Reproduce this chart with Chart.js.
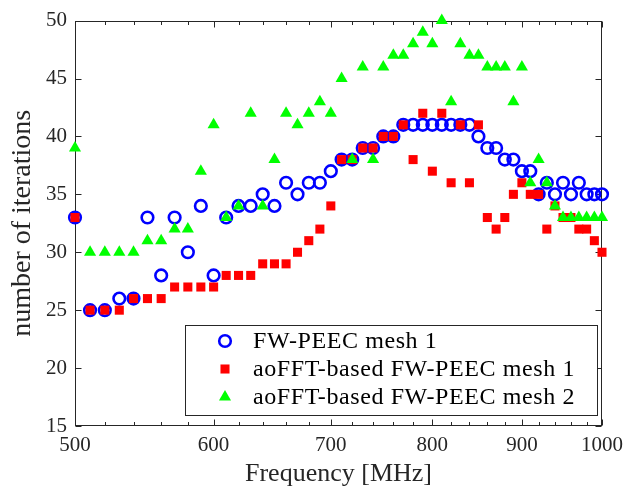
<!DOCTYPE html>
<html>
<head>
<meta charset="utf-8">
<script src="https://cdn.jsdelivr.net/npm/chart.js@4/dist/chart.umd.min.js"></script>
<style>
  html, body { margin: 0; padding: 0; background: #ffffff; }
  #wrap { width: 631px; height: 488px; }
</style>
</head>
<body>
<div id="wrap"><canvas id="chart" width="631" height="488"></canvas></div>
<script>
// Frequency sweep (MHz)
const frequencies = [
  500, 510, 520, 530, 540, 550, 560, 570, 580, 590,
  600, 610, 620, 630, 640, 650, 660, 670, 680, 690,
  700, 710, 720, 730, 740, 750, 760, 770, 780, 790,
  800, 810, 820, 830, 840, 850, 860, 870, 880, 890,
  900, 910, 920, 930, 940, 950, 960, 970, 980, 990,
  1000
];

// Iteration counts per solver
const fwPeecMesh1 = [
  33, 25, 25, 26, 26, 33, 28, 33, 30, 34,
  28, 33, 34, 34, 35, 34, 36, 35, 36, 36,
  37, 38, 38, 39, 39, 40, 40, 41, 41, 41,
  41, 41, 41, 41, 41, 40, 39, 39, 38, 38,
  37, 37, 35, 36, 35, 36, 35, 36, 35, 35,
  35
];
const aoFftMesh1 = [
  33, 25, 25, 25, 26, 26, 26, 27, 27, 27,
  27, 28, 28, 28, 29, 29, 29, 30, 31, 32,
  34, 38, 38, 39, 39, 40, 40, 41, 38, 42,
  37, 42, 36, 41, 36, 41, 33, 32, 33, 35,
  36, 35, 35, 32, 34, 33, 33, 32, 32, 31,
  30
];
const aoFftMesh2 = [
  39, 30, 30, 30, 30, 31, 31, 32, 32, 37,
  41, 33, 34, 42, 34, 38, 42, 41, 42, 43,
  42, 45, 38, 46, 38, 46, 47, 47, 48, 49,
  48, 50, 43, 48, 47, 47, 46, 46, 46, 43,
  46, 36, 38, 36, 34, 33, 33, 33, 33, 33,
  33
];

// Axis ticks
const xMajorTicks = [500, 600, 700, 800, 900, 1000];
const xMinorTicks = [520, 540, 560, 580, 620, 640, 660, 680, 720, 740, 760, 780,
                     820, 840, 860, 880, 920, 940, 960, 980];
const yTicks = [15, 20, 25, 30, 35, 40, 45, 50];

const SERIF = '"Liberation Serif", "Times New Roman", serif';
const AXIS_COLOR = '#262626';

const toPoints = values => frequencies.map((f, i) => ({ x: f, y: values[i] }));

// Box around the axes with inward tick marks on all four sides
const axesFrame = {
  id: 'axesFrame',
  beforeDatasetsDraw(chart) {
    const { ctx, chartArea: a, scales: { x, y } } = chart;
    const L = Math.round(a.left) + 0.5, R = Math.round(a.right) - 0.5;
    const T = Math.round(a.top) + 0.5, B = Math.round(a.bottom) - 0.5;
    ctx.save();
    ctx.strokeStyle = AXIS_COLOR;
    ctx.lineWidth = 1;
    ctx.strokeRect(L, T, R - L, B - T);
    ctx.beginPath();
    const xTick = (v, len) => {
      const px = Math.round(x.getPixelForValue(v)) + 0.5;
      ctx.moveTo(px, B); ctx.lineTo(px, B - len);
      ctx.moveTo(px, T); ctx.lineTo(px, T + len);
    };
    xMajorTicks.forEach(v => xTick(v, 6));
    xMinorTicks.forEach(v => xTick(v, 3.5));
    yTicks.forEach(v => {
      const py = Math.round(y.getPixelForValue(v)) + 0.5;
      ctx.moveTo(L, py); ctx.lineTo(L + 6, py);
      ctx.moveTo(R, py); ctx.lineTo(R - 6, py);
    });
    ctx.stroke();
    ctx.restore();
  }
};

// Framed legend in the lower right of the plot
const boxedLegend = {
  id: 'boxedLegend',
  afterDatasetsDraw(chart) {
    const { ctx } = chart;
    const box = { x: 185.5, y: 325.5, w: 412, h: 90 };
    const rows = [341, 369, 397];
    ctx.save();
    ctx.fillStyle = '#ffffff';
    ctx.fillRect(box.x, box.y, box.w, box.h);
    ctx.strokeStyle = AXIS_COLOR;
    ctx.lineWidth = 1;
    ctx.strokeRect(box.x, box.y, box.w, box.h);
    chart.data.datasets.forEach((ds, i) => {
      ctx.fillStyle = ds.backgroundColor;
      ctx.strokeStyle = ds.borderColor;
      ctx.lineWidth = ds.borderWidth;
      Chart.helpers.drawPoint(ctx, {
        pointStyle: ds.pointStyle,
        radius: ds.pointRadius,
        rotation: 0,
        borderWidth: ds.borderWidth
      }, 225, rows[i]);
      ctx.fillStyle = '#000000';
      ctx.font = '24px ' + SERIF;
      if ('letterSpacing' in ctx) ctx.letterSpacing = '0.6px';
      ctx.textAlign = 'left';
      ctx.textBaseline = 'middle';
      ctx.fillText(ds.label, 253, rows[i] + 1);
      if ('letterSpacing' in ctx) ctx.letterSpacing = '0px';
    });
    ctx.restore();
  }
};

new Chart(document.getElementById('chart'), {
  type: 'scatter',
  data: {
    datasets: [
      {
        label: 'FW-PEEC mesh 1',
        data: toPoints(fwPeecMesh1),
        pointStyle: 'circle',
        pointRadius: 5.8,
        borderWidth: 2.6,
        borderColor: '#0000ff',
        backgroundColor: 'rgba(0,0,0,0)',
        clip: false,
        order: 3
      },
      {
        label: 'aoFFT-based FW-PEEC mesh 1',
        data: toPoints(aoFftMesh1),
        pointStyle: 'rect',
        pointRadius: 6.4,
        borderWidth: 0,
        borderColor: '#ff0000',
        backgroundColor: '#ff0000',
        clip: false,
        order: 2
      },
      {
        label: 'aoFFT-based FW-PEEC mesh 2',
        data: toPoints(aoFftMesh2),
        pointStyle: 'triangle',
        pointRadius: 7,
        borderWidth: 0,
        borderColor: '#00ff00',
        backgroundColor: '#00ff00',
        clip: false,
        order: 1
      }
    ]
  },
  options: {
    responsive: false,
    animation: false,
    devicePixelRatio: 1,
    layout: { padding: { top: 20, right: 29, bottom: 0, left: 0 } },
    plugins: {
      legend: { display: false },
      tooltip: { enabled: false }
    },
    elements: { point: { hoverRadius: 7 } },
    scales: {
      x: {
        type: 'logarithmic',
        position: 'bottom',
        min: 500,
        max: 1000,
        afterBuildTicks: s => { s.ticks = xMajorTicks.map(v => ({ value: v })); },
        afterFit: s => { s.height = 62; },
        grid: { display: false, drawTicks: false },
        border: { display: false },
        ticks: {
          autoSkip: false,
          maxRotation: 0,
          padding: 7,
          color: AXIS_COLOR,
          font: { family: SERIF, size: 21 },
          callback: v => String(v)
        },
        title: {
          display: true,
          text: 'Frequency [MHz]',
          color: AXIS_COLOR,
          font: { family: SERIF, size: 26, lineHeight: 1.1 },
          padding: { top: 0, bottom: 0 }
        }
      },
      y: {
        type: 'linear',
        min: 15,
        max: 50,
        afterBuildTicks: s => { s.ticks = yTicks.map(v => ({ value: v })); },
        afterFit: s => { s.width = 75; },
        grid: { display: false, drawTicks: false },
        border: { display: false },
        ticks: {
          padding: 8,
          color: AXIS_COLOR,
          font: { family: SERIF, size: 21 },
          callback: v => String(v)
        },
        title: {
          display: true,
          text: 'number of iterations',
          color: AXIS_COLOR,
          font: { family: SERIF, size: 28, lineHeight: 1.1 },
          padding: { top: 7, bottom: 0 }
        }
      }
    }
  },
  plugins: [axesFrame, boxedLegend]
});
</script>
</body>
</html>
